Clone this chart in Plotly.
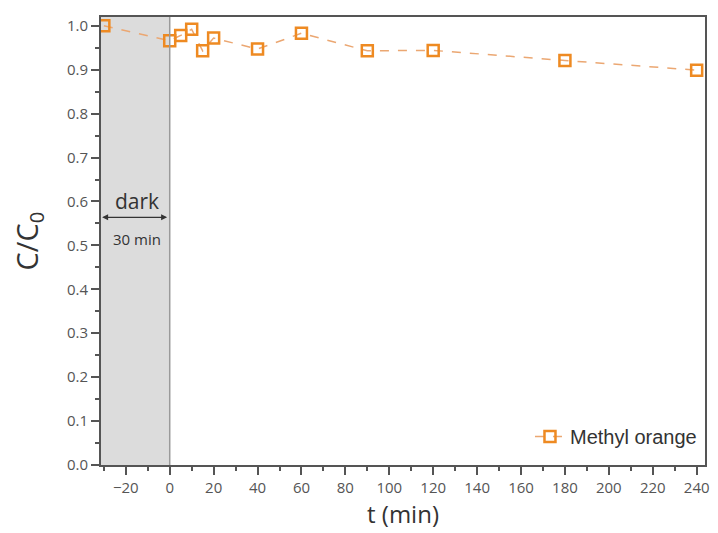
import plotly.graph_objects as go

t_min = [-30, 0, 5, 10, 15, 20, 40, 60, 90, 120, 180, 240]
c_ratio = [1.0, 0.966, 0.978, 0.992, 0.943, 0.972, 0.947, 0.983, 0.943, 0.944, 0.921, 0.899]
x_ticks = [-20, 0, 20, 40, 60, 80, 100, 120, 140, 160, 180, 200, 220, 240]
y_ticks = [0.0, 0.1, 0.2, 0.3, 0.4, 0.5, 0.6, 0.7, 0.8, 0.9, 1.0]
x_range = [-31.3, 243.8]
y_range = [0, 1.02]

orange = "#EE8A22"

fig = go.Figure()
fig.add_trace(go.Scatter(
    x=t_min, y=c_ratio, mode="lines+markers", name="Methyl orange",
    line=dict(color="#EBA772", width=1.5, dash="dash"),
    marker=dict(symbol="square-open", size=11, color=orange, line=dict(width=2.5, color=orange)),
))

fig.add_shape(type="rect", xref="x", yref="y", x0=x_range[0], x1=0, y0=0, y1=y_range[1],
              fillcolor="#DCDCDC", line=dict(width=0), layer="below")
fig.add_shape(type="line", xref="x", yref="y", x0=0, x1=0, y0=0, y1=y_range[1],
              line=dict(color="#9A9A9A", width=1.5))

fig.add_annotation(x=-15, y=0.6, xref="x", yref="y", text="dark", showarrow=False,
                   font=dict(family="Open Sans", size=21, color="#333"), yanchor="middle")
fig.add_annotation(x=-30.8, y=0.564, ax=-0.5, ay=0.564, xref="x", yref="y", axref="x", ayref="y",
                   text="", showarrow=True, arrowhead=2, arrowsize=1, arrowwidth=1.2,
                   arrowside="end+start", arrowcolor="#333")
fig.add_annotation(x=-15, y=0.514, xref="x", yref="y", text="30 min", showarrow=False,
                   font=dict(family="Open Sans", size=15, color="#333"), yanchor="middle")

axis_common = dict(showline=True, linecolor="#555", linewidth=2, mirror=True,
                   ticks="outside", ticklen=8, tickwidth=1.5, tickcolor="#555",
                   showgrid=False, zeroline=False,
                   tickfont=dict(family="Open Sans", size=15, color="#555"))

fig.update_xaxes(range=x_range, tickvals=x_ticks,
                 minor=dict(dtick=10, tick0=0, ticks="outside", ticklen=4, tickcolor="#555"),
                 title=dict(text="t (min)", font=dict(family="Open Sans", size=24, color="#333"), standoff=10),
                 **axis_common)
fig.update_yaxes(range=y_range, tickvals=y_ticks, tickformat=".1f",
                 minor=dict(dtick=0.05, tick0=0, ticks="outside", ticklen=4, tickcolor="#555"),
                 title=dict(text="C/C<sub>0</sub>", font=dict(family="Open Sans", size=29, color="#333"), standoff=20),
                 **axis_common)

fig.update_layout(
    width=718, height=533, margin=dict(l=101, r=9, t=17, b=68),
    plot_bgcolor="white", paper_bgcolor="white", showlegend=True,
    legend=dict(x=0.995, y=0.02, xanchor="right", yanchor="bottom", bgcolor="rgba(0,0,0,0)",
                font=dict(family="Liberation Sans", size=20, color="#333")),
)

fig.write_html("out.html")
